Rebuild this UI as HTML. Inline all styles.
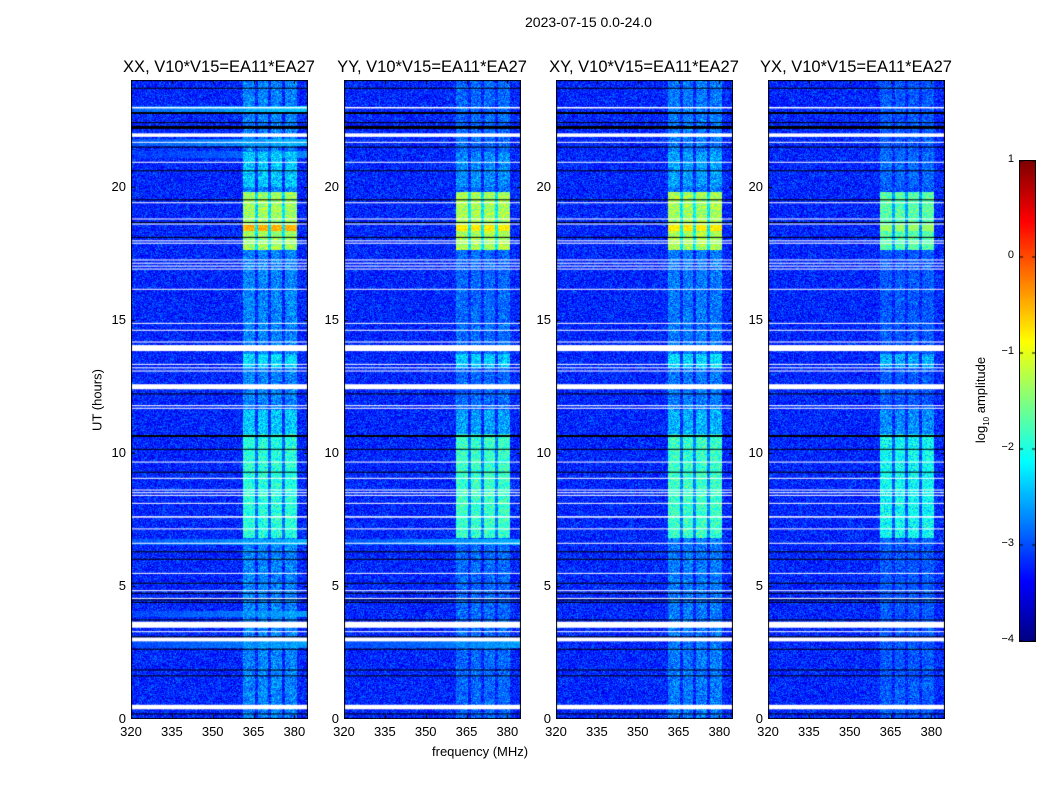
<!DOCTYPE html>
<html><head><meta charset="utf-8">
<style>
body{margin:0;background:#fff;width:1050px;height:800px;overflow:hidden;font-family:"Liberation Sans",sans-serif;}
#wrap{position:relative;width:1050px;height:800px;}
canvas{position:absolute;}
.t{position:absolute;font-size:13px;color:#000;white-space:nowrap;}
</style></head><body>
<div id="wrap">
<div class="t" style="left:525px;top:14px;font-size:14px">2023-07-15 0.0-24.0</div>
<div class="t" style="left:97px;top:400px;transform:translate(-50%,-50%) rotate(-90deg)">UT (hours)</div>
<div class="t" style="left:432px;top:744px">frequency (MHz)</div>
<div class="t" style="left:982px;top:400px;transform:translate(-50%,-50%) rotate(-90deg)">log<sub style="font-size:8px">10</sub> amplitude</div>
<canvas id="cb" width="15" height="480" style="left:1019px;top:160px;border:1px solid #000;box-sizing:border-box"></canvas>
</div>
<script>
// ---- data ----
const panelTitles=["XX, V10*V15=EA11*EA27","YY, V10*V15=EA11*EA27","XY, V10*V15=EA11*EA27","YX, V10*V15=EA11*EA27"];
const panelLeft=[131,344,556,768];
const xTicks=[320,335,350,365,380];
const yTicks=[0,5,10,15,20];
const cbTicks=[1,0,-1,-2,-3,-4];
// flagged (white) rows: hour, thickness px
const whiteHours=[22.96,21.93,21.66,20.91,19.39,18.78,18.59,17.96,17.87,17.24,17.12,17.01,16.90,16.14,14.86,14.60,14.16,13.93,13.32,13.19,13.07,12.48,11.77,11.67,9.65,9.04,8.60,8.50,8.40,8.10,7.59,7.14,6.60,5.47,4.82,4.53,3.54,3.28,2.99,0.45];
const whiteThick=[1.5,3.5,1,1,1,1,1,1,1,1,1,1,1,1,1,1,1,6,1,1,1,5,1,1,1,1,1,1,1,1,1.5,1,1,1,1,1,6,1,4,4.5];
// dark rows
const blackHours=[23.69,22.76,22.40,22.22,21.48,20.59,19.50,18.65,18.09,12.21,10.63,10.13,9.27,6.28,6.00,5.10,4.72,4.47,4.38,3.72,3.09,2.62,1.84,1.62,0.19];
const blackThick=[1,2,1,3,1,1,1,1,1,1,2,1,1,1,1,1,1,1,1,1,1,1,1,1,1];
// RFI sub-bands (MHz)
const rfiStart=[361.0,366.6,371.3,376.5];
const rfiWidth=[4.4,3.8,4.2,4.3];
// RFI events (hours) and level per panel
const evStart=[17.6,6.8,13.2,10.2,20.0,0.0];
const evEnd=[19.8,10.7,13.7,11.6,21.3,24.0];
const evLevelXX=[-1.35,-1.95,-2.3,-2.4,-2.4,-2.75];
const evLevelYY=[-1.3,-1.85,-2.4,-2.6,-2.7,-2.9];
const evLevelXY=[-1.3,-1.85,-2.3,-2.5,-2.6,-2.8];
const evLevelYX=[-1.7,-2.1,-2.5,-2.7,-2.9,-3.0];
const evLevels=[evLevelXX,evLevelYY,evLevelXY,evLevelYX];
// hot stripe (red) hours
const hotHours=[18.45];
const hotLevel=[-0.5,-0.8,-0.8,-1.4];
// broadband streaks
const streakHours=[22.9,21.65,6.65,3.95,2.8,21.2];
const streakLevel=[-2.4,-2.5,-2.5,-2.6,-2.6,-2.7];
const streakPanels=[[0],[0],[0,1],[0],[0,1],[0]];
const baseLevel=-3.2;

// ---- axes ----
const X0=320,X1=385,Y0=0,Y1=24,PW=177,PT=80,PH=639;
function jet(x){x=Math.max(0,Math.min(1,x));const c=v=>Math.round(255*Math.max(0,Math.min(1,v)));
return [c(1.5-Math.abs(4*x-3)),c(1.5-Math.abs(4*x-2)),c(1.5-Math.abs(4*x-1))];}
function vx(v){return (v+4)/5;}
function xs(f){return (f-X0)/(X1-X0)*PW;}
function ys(h){return PH-(h-Y0)/(Y1-Y0)*PH;}
function hash(a,b,c){let h=(a*374761393+b*668265263+c*2147483647)|0;h=(h^(h>>>13))*1274126177|0;return ((h^(h>>>16))>>>0)/4294967296;}

const wrap=document.getElementById('wrap');
panelTitles.forEach((title,p)=>{
  const L=panelLeft[p];
  const t=document.createElement('div');t.className='t';t.style.fontSize='16.5px';
  t.textContent=title;t.style.left=(L+88)+'px';t.style.top='58px';t.style.transform='translateX(-50%)';
  
  
  wrap.appendChild(t);
  const cv=document.createElement('canvas');cv.width=PW;cv.height=PH;
  cv.style.left=L+'px';cv.style.top=PT+'px';
  
  
  wrap.appendChild(cv);
  const ctx=cv.getContext('2d');const img=ctx.createImageData(PW,PH);
  const lv=evLevels[p];
  for(let y=0;y<PH;y++){
    const h=Y1-(y+0.5)/PH*(Y1-Y0);
    let streak=-9;
    streakHours.forEach((s,i)=>{if(streakPanels[i].includes(p)&&Math.abs(h-s)<0.12)streak=Math.max(streak,streakLevel[i]);});
    let ev=-9;evStart.forEach((s,i)=>{if(h>=s&&h<=evEnd[i])ev=Math.max(ev,lv[i]);});
    let hot=false;hotHours.forEach(s=>{if(Math.abs(h-s)<0.12)hot=true;});
    for(let x=0;x<PW;x++){
      const f=X0+(x+0.5)/PW*(X1-X0);
      const n=(hash(x,y,p)+hash(x+7,y,p+1)-1);
      let v=baseLevel+n*0.55;
      if(streak>-9){const fr=(x/PW);v=Math.max(v,streak-0.5*(1-fr)+(hash(x,y,p+9)-0.5)*0.4);}
      let inBand=-1;rfiStart.forEach((s,i)=>{if(f>=s&&f<s+rfiWidth[i])inBand=i;});
      if(inBand>=0&&ev>-9){
        let e=ev+(hash(x,y,p+5)+hash(x,y+3,p+6)-1)*0.6;
        if(hot)e=Math.max(e,hotLevel[p]+(hash(x,y,p+8)-0.5)*0.4);
        v=Math.max(v,e);
      }else if(f>=361&&f<381&&ev>-9){v=Math.max(v,ev-0.9+(hash(x,y,p+3)-0.5)*0.6);}
      const c=jet(vx(v));const k=(y*PW+x)*4;
      img.data[k]=c[0];img.data[k+1]=c[1];img.data[k+2]=c[2];img.data[k+3]=255;
    }
  }
  ctx.putImageData(img,0,0);
  ctx.fillStyle='#fff';
  whiteHours.forEach((hh,i)=>{const yy=ys(hh);ctx.fillRect(0,yy-whiteThick[i]/2,PW,whiteThick[i]);});
  ctx.fillStyle='#000';
  blackHours.forEach((hh,i)=>{const yy=ys(hh);ctx.fillRect(0,yy-blackThick[i]/2,PW,blackThick[i]);});
  ctx.strokeStyle='#000';ctx.lineWidth=1;ctx.strokeRect(0.5,0.5,PW-1,PH-1);
  xTicks.forEach(v=>{const xx=Math.round(xs(v))+0.5;ctx.beginPath();ctx.moveTo(xx,0);ctx.lineTo(xx,4);ctx.moveTo(xx,PH);ctx.lineTo(xx,PH-4);ctx.stroke();
    const d=document.createElement('div');d.className='t';d.textContent=v;d.style.left=(L+xs(v))+'px';d.style.top='724px';d.style.transform='translateX(-50%)';
    
    
    wrap.appendChild(d);});
  yTicks.forEach(v=>{const yy=Math.round(ys(v))+0.5;ctx.beginPath();ctx.moveTo(0,yy);ctx.lineTo(4,yy);ctx.moveTo(PW,yy);ctx.lineTo(PW-4,yy);ctx.stroke();
    const d=document.createElement('div');d.className='t';d.textContent=v;d.style.right=(1050-L+5)+'px';d.style.top=(PT+ys(v)-8)+'px';
    
    
    wrap.appendChild(d);});
});
// colorbar
const cb=document.getElementById('cb');const cc=cb.getContext('2d');
for(let y=0;y<480;y++){const c=jet(1-y/480);cc.fillStyle=`rgb(${c[0]},${c[1]},${c[2]})`;cc.fillRect(0,y,15,1);}
cbTicks.forEach(v=>{const yy=160+(1-v)/5*480;
  cc.fillStyle='#000';cc.fillRect(0,yy-160-0.5,3,1);cc.fillRect(12,yy-160-0.5,3,1);
  const d=document.createElement('div');d.className='t';d.style.fontSize='11px';d.textContent=v<0?'\u2212'+(-v):v;
  d.style.right=(1050-1014)+'px';d.style.top=(yy-7)+'px';
  
  
  wrap.appendChild(d);});
</script>
</body></html>
